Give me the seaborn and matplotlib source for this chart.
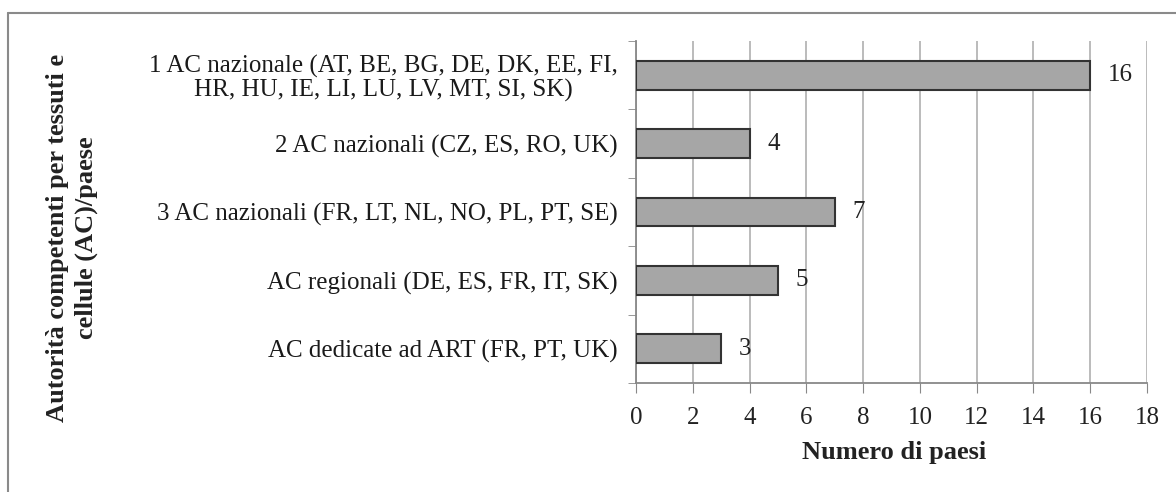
import matplotlib
matplotlib.use("Agg")
import matplotlib.pyplot as plt
import seaborn as sns
import pandas as pd
from matplotlib.lines import Line2D

categories = [
    "1 AC nazionale (AT, BE, BG, DE, DK, EE, FI,\nHR, HU, IE, LI, LU, LV, MT, SI, SK)",
    "2 AC nazionali (CZ, ES, RO, UK)",
    "3 AC nazionali (FR, LT, NL, NO, PL, PT, SE)",
    "AC regionali (DE, ES, FR, IT, SK)",
    "AC dedicate ad ART (FR, PT, UK)",
]
values = [16, 4, 7, 5, 3]
x_ticks = [0, 2, 4, 6, 8, 10, 12, 14, 16, 18]
x_label = "Numero di paesi"
y_label = "Autorità competenti per tessuti e\ncellule (AC)/paese"

sns.set_style("white")
plt.rcParams['font.family'] = ['Liberation Serif', 'DejaVu Serif']

df = pd.DataFrame({"cat": categories, "val": values})

fig = plt.figure(figsize=(11.76, 4.92), dpi=100)
ax = fig.add_axes([636/1176, 1-383/492, (1147-636)/1176, (383-41)/492])

sns.barplot(data=df, x="val", y="cat", orient="h", color="#a6a6a6",
            edgecolor="#333333", linewidth=1.5, width=0.42, ax=ax, zorder=3,
            saturation=1)

ax.set_xlim(0, 18)
ax.set_ylim(4.5, -0.5)
ax.set_xticks(x_ticks)
ax.set_xticklabels([str(t) for t in x_ticks], fontsize=18, color="#222222")
ax.set_yticks(range(len(categories)))
ax.set_yticklabels(categories, fontsize=18, color="#1a1a1a", ha="right",
                   multialignment="center", linespacing=1.05)
ax.tick_params(axis="y", length=0, pad=13)
ax.set_yticks([i - 0.5 for i in range(len(categories) + 1)], minor=True)
ax.tick_params(axis="y", which="minor", length=6, color="#888888", left=True)
ax.tick_params(axis="x", length=7, color="#888888", bottom=True, pad=10)

ax.grid(axis="x", color="#b5b5b5", linewidth=1.3, zorder=0)
ax.set_axisbelow(True)
for s in ["top", "right"]:
    ax.spines[s].set_visible(False)
for s in ["left", "bottom"]:
    ax.spines[s].set_color("#888888")
    ax.spines[s].set_linewidth(1.3)

ax.set_xlabel("")
ax.set_ylabel("")

for i, v in enumerate(values):
    ax.text(v + 0.62, i, str(v), va="center", ha="left", fontsize=18, color="#222222")

fig.text(894/1176, 1-452/492, x_label, ha="center", va="center",
         fontsize=19, fontweight="bold", color="#222222")
fig.text(72/1176, 1-238/492, y_label, ha="center", va="center", rotation=90,
         fontsize=19, fontweight="bold", color="#222222", multialignment="center",
         linespacing=1.3)

fig.lines.append(Line2D([8/1176, 1], [1-13/492, 1-13/492], transform=fig.transFigure,
                        color="#8a8a8a", linewidth=1.5))
fig.lines.append(Line2D([8/1176, 8/1176], [0, 1-13/492], transform=fig.transFigure,
                        color="#8a8a8a", linewidth=1.5))

fig.savefig("out.png", dpi=100, facecolor="white")
